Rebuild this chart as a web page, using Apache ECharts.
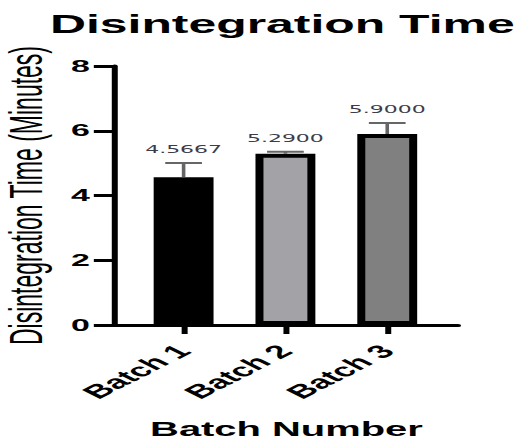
<!DOCTYPE html>
<html>
<head>
<meta charset="utf-8">
<script src="https://cdn.jsdelivr.net/npm/echarts@6/dist/echarts.min.js"></script>
<style>
html,body{margin:0;padding:0;background:#fff;overflow:hidden;}
#wrap{width:517px;height:439px;overflow:hidden;}
#chart{width:259px;height:439px;transform:scaleX(1.9961);transform-origin:0 0;}
</style>
</head>
<body>
<div id="wrap"><div id="chart"></div></div>
<script>
// ---- data ----
const categories = ['Batch 1', 'Batch 2', 'Batch 3'];
const means = [4.5667, 5.29, 5.9];
const errors = [0.44, 0.06, 0.34];
const yTicks = [0, 2, 4, 6, 8];

// ---- styles ----
const barFills = ['#000000', '#a3a2a7', '#808080'];
const FONT = '"Liberation Sans", Arial, Helvetica, sans-serif';

const positions = categories.map((c, i) => i + 1);
const barData = means.map((m, i) => ({
  value: [positions[i], m],
  itemStyle: { color: barFills[i], borderColor: '#000', borderWidth: 4 }
}));
const errData = means.map((m, i) => [positions[i], m, errors[i]]);

const chart = echarts.init(document.getElementById('chart'), null, { renderer: 'svg' });
chart.setOption({
  animation: false,
  backgroundColor: '#fff',
  title: {
    text: 'Disintegration Time',
    left: 25,
    top: 12,
    padding: 0,
    textStyle: { fontFamily: FONT, fontWeight: 'bold', fontSize: 25, color: '#000' }
  },
  grid: { left: 57.5, right: 29.5, top: 66, bottom: 114, containLabel: false, outerBoundsMode: 'none' },
  xAxis: {
    type: 'value',
    min: 0.324,
    max: 3.696,
    name: 'Batch Number',
    nameLocation: 'middle',
    nameGap: 94,
    nameTextStyle: { fontFamily: FONT, fontWeight: 'bold', fontSize: 20, color: '#000' },
    splitLine: { show: false },
    axisLine: { show: true, onZero: false, lineStyle: { color: '#000', width: 3 } },
    axisTick: { show: true, customValues: positions, length: 9, lineStyle: { color: '#000', width: 3 } },
    axisLabel: {
      customValues: positions,
      formatter: v => categories[Math.round(v) - 1] || '',
      rotate: 45,
      margin: 23,
      fontFamily: FONT,
      fontWeight: 'bold',
      fontSize: 18.5,
      color: '#000'
    }
  },
  yAxis: {
    type: 'value',
    min: 0,
    max: 8,
    interval: 2,
    name: 'Disintegration Time (Minutes)',
    nameLocation: 'middle',
    nameRotate: 90,
    nameGap: 31,
    nameTextStyle: { fontFamily: FONT, fontSize: 23, color: '#000' },
    splitLine: { show: false },
    axisLine: { show: true, lineStyle: { color: '#000', width: 3 } },
    axisTick: { show: true, length: 10.5, lineStyle: { color: '#000', width: 3 } },
    axisLabel: {
      margin: 12.5,
      fontFamily: FONT,
      fontWeight: 'bold',
      fontSize: 17,
      color: '#000',
      formatter: v => (yTicks.indexOf(v) >= 0 ? String(v) : '')
    }
  },
  series: [
    {
      type: 'bar',
      data: barData,
      barWidth: 30,
      z: 2
    },
    {
      type: 'custom',
      z: 3,
      data: errData,
      renderItem: function (params, api) {
        const x = api.value(0), y = api.value(1), e = api.value(2);
        const base = api.coord([x, y]);
        const top = api.coord([x, y + e]);
        const half = 9.2;
        const stroke = '#666666';
        return {
          type: 'group',
          children: [
            { type: 'line', shape: { x1: top[0], y1: base[1], x2: top[0], y2: top[1] }, style: { stroke: stroke, lineWidth: 1.8 } },
            { type: 'line', shape: { x1: top[0] - half, y1: top[1], x2: top[0] + half, y2: top[1] }, style: { stroke: stroke, lineWidth: 2 } },
            {
              type: 'text',
              style: {
                text: y.toFixed(4),
                x: top[0],
                y: top[1] - 13.5,
                align: 'center',
                verticalAlign: 'middle',
                fill: '#3c3c4a',
                fontFamily: '"DejaVu Sans", Verdana, sans-serif',
                fontSize: 11
              }
            }
          ]
        };
      }
    }
  ]
});
</script>
</body>
</html>
